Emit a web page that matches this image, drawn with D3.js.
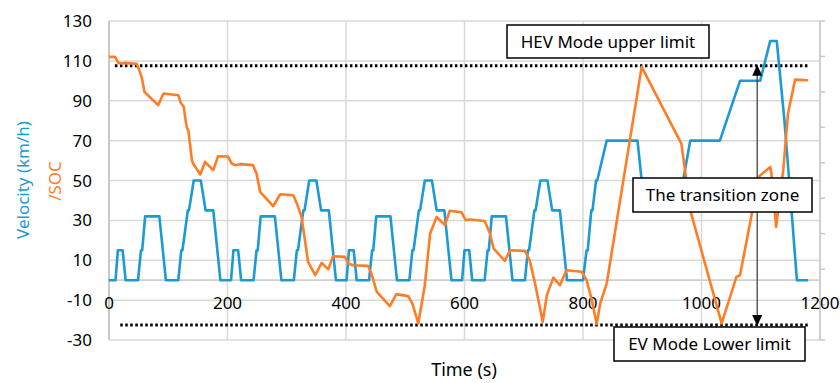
<!DOCTYPE html>
<html><head><meta charset="utf-8">
<script src="https://cdn.jsdelivr.net/npm/d3@7"></script>
<style>
html,body{margin:0;padding:0;background:#fff;}
text{font-family:"Noto Sans","Open Sans",sans-serif;}
</style></head>
<body><svg id="c" width="840" height="383"></svg>
<script>
// ---- data ----
const yTicks = [-30,-10,10,30,50,70,90,110,130];
const xTicks = [0,200,400,600,800,1000,1200];
const rightTickCount = 9;

const velTime = [0,11,15,23,28,49,54,56,61,85,96,117,122,124,133,135,143,155,163,176,188,
  206,210,218,223,244,249,251,256,280,291,312,317,319,328,330,338,350,358,371,383,
  401,405,413,418,439,444,446,451,475,486,507,512,514,523,525,533,545,553,566,578,
  596,600,608,613,634,639,641,646,670,681,702,707,709,718,720,728,740,748,761,773,
  800,806,808,814,816,822,824,840,892,899,969,981,1031,1065,1099,1116,1127,1140,1148,1161,1180];
const velValue = [0,0,15,15,0,0,15,15,32,32,0,0,15,15,35,35,50,50,35,35,0,
  0,15,15,0,0,15,15,32,32,0,0,15,15,35,35,50,50,35,35,0,
  0,15,15,0,0,15,15,32,32,0,0,15,15,35,35,50,50,35,35,0,
  0,15,15,0,0,15,15,32,32,0,0,15,15,35,35,50,50,35,35,0,
  0,15,15,35,35,50,50,70,70,50,50,70,70,100,100,120,120,80,50,0,0];

const socTime = [0,10,16,22,27,47,52,55,60,83,92,117,121,126,131,134,140,142,154,162,176,184,201,207,213,221,243,249,255,277,289,311,317,325,336,348,359,370,378,398,404,412,437,443,452,474,485,505,512,522,533,542,553,567,575,595,602,609,634,643,649,668,677,702,710,719,727,732,739,750,761,772,798,806,815,823,829,840,899,966,982,1034,1059,1065,1085,1096,1116,1118,1126,1132,1138,1146,1158,1180];
const socValue = [112,112,109,108.7,109,108.5,104.5,102,94.4,87.8,93.6,92.8,89,87,77,75,60,58.5,53,59.3,55.2,62.2,62,58.5,57.7,58.2,57.7,53.5,44.3,37.1,43.1,42.6,38.5,31.7,9.2,2.5,8.7,5.4,12,11.7,8.4,7.5,7.2,3.3,-5.9,-13,-7,-8,-11.7,-21.7,-2.5,23.4,31.7,27.6,34.8,34,30.1,30.4,29.7,23.4,15.9,9.7,15,14.7,10,-1.7,-13.4,-20.9,-7.5,1.3,-2.5,5,4.2,0,-10,-22,-11.7,-1.7,107,68.5,34,-21.7,1.7,2.5,33.4,51.8,56.8,53.5,26.7,41.8,55.2,83.6,100.6,100.3];

const hevLimit = 107.5, evLimit = -22.5;
const hevRange = [10,1183], evRange = [19,1183];
const arrowTime = 1094;

// ---- drawing ----
const svg = d3.select("#c");
const x = d3.scaleLinear().domain([0,1200]).range([109,820]);
const y = d3.scaleLinear().domain([-30,130]).range([340,21]);
const grid = "#d9d9d9";

// horizontal gridlines
svg.append("g").selectAll("line").data(yTicks).join("line")
  .attr("x1",x(0)).attr("x2",x(1200)).attr("y1",d=>y(d)).attr("y2",d=>y(d))
  .attr("stroke",grid).attr("stroke-width",1.5);
// vertical gridlines
svg.append("g").selectAll("line").data(xTicks).join("line")
  .attr("x1",d=>x(d)).attr("x2",d=>x(d)).attr("y1",y(130)).attr("y2",y(-30))
  .attr("stroke",grid).attr("stroke-width",1.5);
// zero axis line & left axis
svg.append("line").attr("x1",x(0)).attr("x2",x(1200)).attr("y1",y(0)).attr("y2",y(0))
  .attr("stroke","#cfcfcf").attr("stroke-width",1.8);
svg.append("line").attr("x1",x(0)).attr("x2",x(0)).attr("y1",y(130)).attr("y2",y(-30))
  .attr("stroke","#c8c8c8").attr("stroke-width",2);

// right axis with ticks
const rScale = d3.scaleLinear().domain([0,rightTickCount]).range([y(-30),y(130)]);
svg.append("line").attr("x1",x(1200)).attr("x2",x(1200)).attr("y1",y(130)).attr("y2",y(-30))
  .attr("stroke","#c8c8c8").attr("stroke-width",1.5);
svg.append("g").selectAll("line").data(d3.range(rightTickCount+1)).join("line")
  .attr("x1",x(1200)).attr("x2",x(1200)+5).attr("y1",d=>rScale(d)).attr("y2",d=>rScale(d))
  .attr("stroke","#c8c8c8").attr("stroke-width",1.5);

// y tick labels
svg.append("g").selectAll("text").data(yTicks).join("text")
  .attr("x",92).attr("y",d=>y(d)).attr("dy","0.36em").attr("text-anchor","end")
  .attr("font-size",17).attr("fill","#000").text(d=>d);
// x tick labels
svg.append("g").selectAll("text").data(xTicks).join("text")
  .attr("x",d=>x(d)).attr("y",303).attr("dy","0.36em").attr("text-anchor","middle")
  .attr("font-size",17).attr("fill","#000").text(d=>d);

// axis titles
svg.append("text").attr("transform","translate(29,180) rotate(-90)")
  .attr("text-anchor","middle").attr("font-size",17).attr("fill","#1b9ad6").text("Velocity (km/h)");
svg.append("text").attr("transform","translate(61,181) rotate(-90)")
  .attr("text-anchor","middle").attr("font-size",17).attr("fill","#ff7d24").text("/SOC");
svg.append("text").attr("x",464).attr("y",370).attr("dy","0.36em").attr("text-anchor","middle")
  .attr("font-size",18).attr("fill","#000").text("Time (s)");

// limit dotted lines
svg.append("line").attr("x1",x(hevRange[0])).attr("x2",x(hevRange[1]))
  .attr("y1",y(hevLimit)).attr("y2",y(hevLimit))
  .attr("stroke","#000").attr("stroke-width",3).attr("stroke-dasharray","2.5,2.5");
svg.append("line").attr("x1",x(evRange[0])).attr("x2",x(evRange[1]))
  .attr("y1",y(evLimit)).attr("y2",y(evLimit))
  .attr("stroke","#000").attr("stroke-width",3).attr("stroke-dasharray","2.5,2.5");

// series
const vel = velTime.map((t,i)=>[t,velValue[i]]);
const soc = socTime.map((t,i)=>[t,socValue[i]]);
const line = d3.line().x(d=>x(d[0])).y(d=>y(d[1]));
svg.append("path").datum(vel).attr("d",line).attr("fill","none")
  .attr("stroke","#1b9ad6").attr("stroke-width",2.6).attr("stroke-linejoin","round");
svg.append("path").datum(soc).attr("d",line).attr("fill","none")
  .attr("stroke","#ff7d24").attr("stroke-width",2.6).attr("stroke-linejoin","round");

// arrow
const ax = x(arrowTime);
svg.append("line").attr("x1",ax).attr("x2",ax).attr("y1",y(hevLimit)+8).attr("y2",y(evLimit)-8)
  .attr("stroke","#333").attr("stroke-width",1.2);
svg.append("path").attr("d",`M${ax},${y(hevLimit)-1} l-5,11 l10,0 z`).attr("fill","#000");
svg.append("path").attr("d",`M${ax},${y(evLimit)+1} l-5,-11 l10,0 z`).attr("fill","#000");

// annotation boxes
function box(x0,y0,x1,y1,txt){
  svg.append("rect").attr("x",x0).attr("y",y0).attr("width",x1-x0).attr("height",y1-y0)
    .attr("fill","#fff").attr("stroke","#000").attr("stroke-width",1.5);
  svg.append("text").attr("x",(x0+x1)/2).attr("y",(y0+y1)/2).attr("dy","0.36em")
    .attr("text-anchor","middle").attr("font-size",17).attr("fill","#000").text(txt);
}
box(507,25,709,58,"HEV Mode upper limit");
box(633,178,812,212,"The transition zone");
box(614,327,805,361,"EV Mode Lower limit");
</script></body></html>
